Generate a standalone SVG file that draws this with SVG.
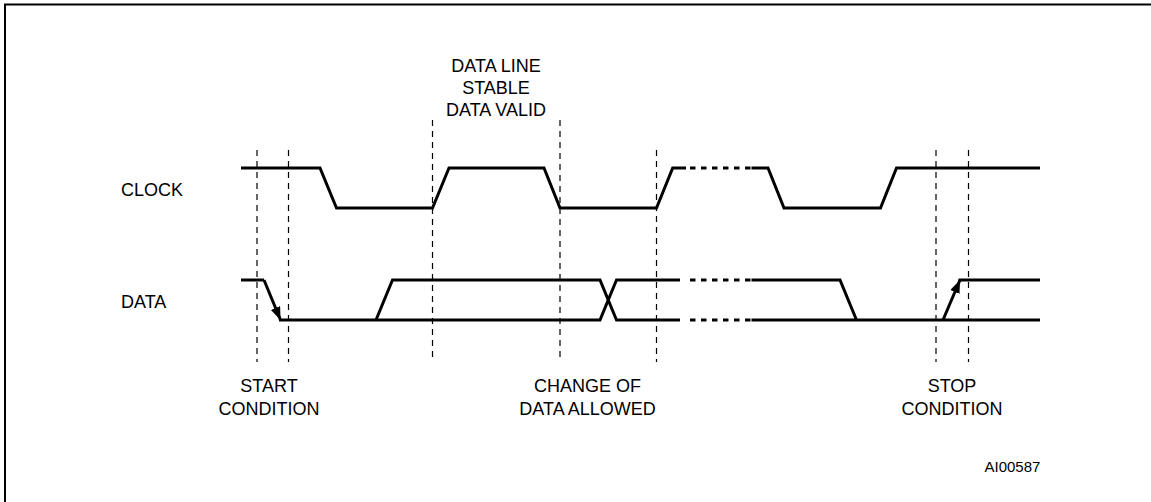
<svg xmlns="http://www.w3.org/2000/svg" width="1151" height="502" viewBox="0 0 1151 502">
<style>
.frame{fill:none;stroke:#000;stroke-width:2}
.wave{fill:none;stroke:#000;stroke-width:3;stroke-linejoin:miter}
.wdash{fill:none;stroke:#000;stroke-width:3;stroke-dasharray:5.5 5.5}
.guide{fill:none;stroke:#000;stroke-width:1.2;stroke-dasharray:6 5}
text{font-family:"Liberation Sans",Arial,sans-serif;font-size:18px;fill:#000}
.mid{text-anchor:middle}
.small{font-size:15px}
</style>
<defs>
<marker id="arr" markerUnits="userSpaceOnUse" markerWidth="14" markerHeight="12" refX="13" refY="5" orient="auto">
<path d="M0,0 L13,5 L0,10 Z" fill="#000"/>
</marker>
</defs>
<rect width="1151" height="502" fill="#fff"/>
<path class="frame" d="M5,502 V4.5 H1151"/>
<g id="guides">
<line class="guide" x1="257" y1="150" x2="257" y2="362"/>
<line class="guide" x1="288.5" y1="150" x2="288.5" y2="362"/>
<line class="guide" x1="432.5" y1="120" x2="432.5" y2="362"/>
<line class="guide" x1="560" y1="120" x2="560" y2="362"/>
<line class="guide" x1="656.5" y1="150" x2="656.5" y2="362"/>
<line class="guide" x1="936" y1="150" x2="936" y2="362"/>
<line class="guide" x1="968.5" y1="150" x2="968.5" y2="362"/>
</g>
<g id="clock">
<path class="wave" d="M241,168 H320 L336.5,208 H432.5 L449,168 H544 L560,208 H656.5 L672.7,168 H686"/>
<path class="wdash" d="M690,168 H751"/>
<path class="wave" d="M751.5,168 H768 L784,208 H880.5 L896.5,168 H1040"/>
</g>
<g id="data">
<path class="wave" d="M241,280 H264"/>
<path class="wave" d="M264,280 L280.5,320" marker-end="url(#arr)"/>
<path class="wave" d="M279,320 H600 L616.5,280 H680"/>
<path class="wave" d="M376,320 L392.5,280 H600 L616.5,320 H680"/>
<path class="wdash" d="M690,280 H751"/>
<path class="wdash" d="M690,320 H751"/>
<path class="wave" d="M751.5,280 H840 L856.5,320"/>
<path class="wave" d="M751.5,320 H1040"/>
<path class="wave" d="M943,320 L960,280" marker-end="url(#arr)"/>
<path class="wave" d="M958.5,280 H1040"/>
</g>
<g id="labels">
<text x="121" y="196">CLOCK</text>
<text x="121" y="308">DATA</text>
<text class="mid" x="496" y="72">DATA LINE</text>
<text class="mid" x="496" y="94">STABLE</text>
<text class="mid" x="496" y="116">DATA VALID</text>
<text class="mid" x="269" y="392">START</text>
<text class="mid" x="269" y="415">CONDITION</text>
<text class="mid" x="587.5" y="392">CHANGE OF</text>
<text class="mid" x="587.5" y="415">DATA ALLOWED</text>
<text class="mid" x="952" y="392">STOP</text>
<text class="mid" x="952" y="415">CONDITION</text>
<text class="small" x="984.5" y="472">AI00587</text>
</g>
</svg>
